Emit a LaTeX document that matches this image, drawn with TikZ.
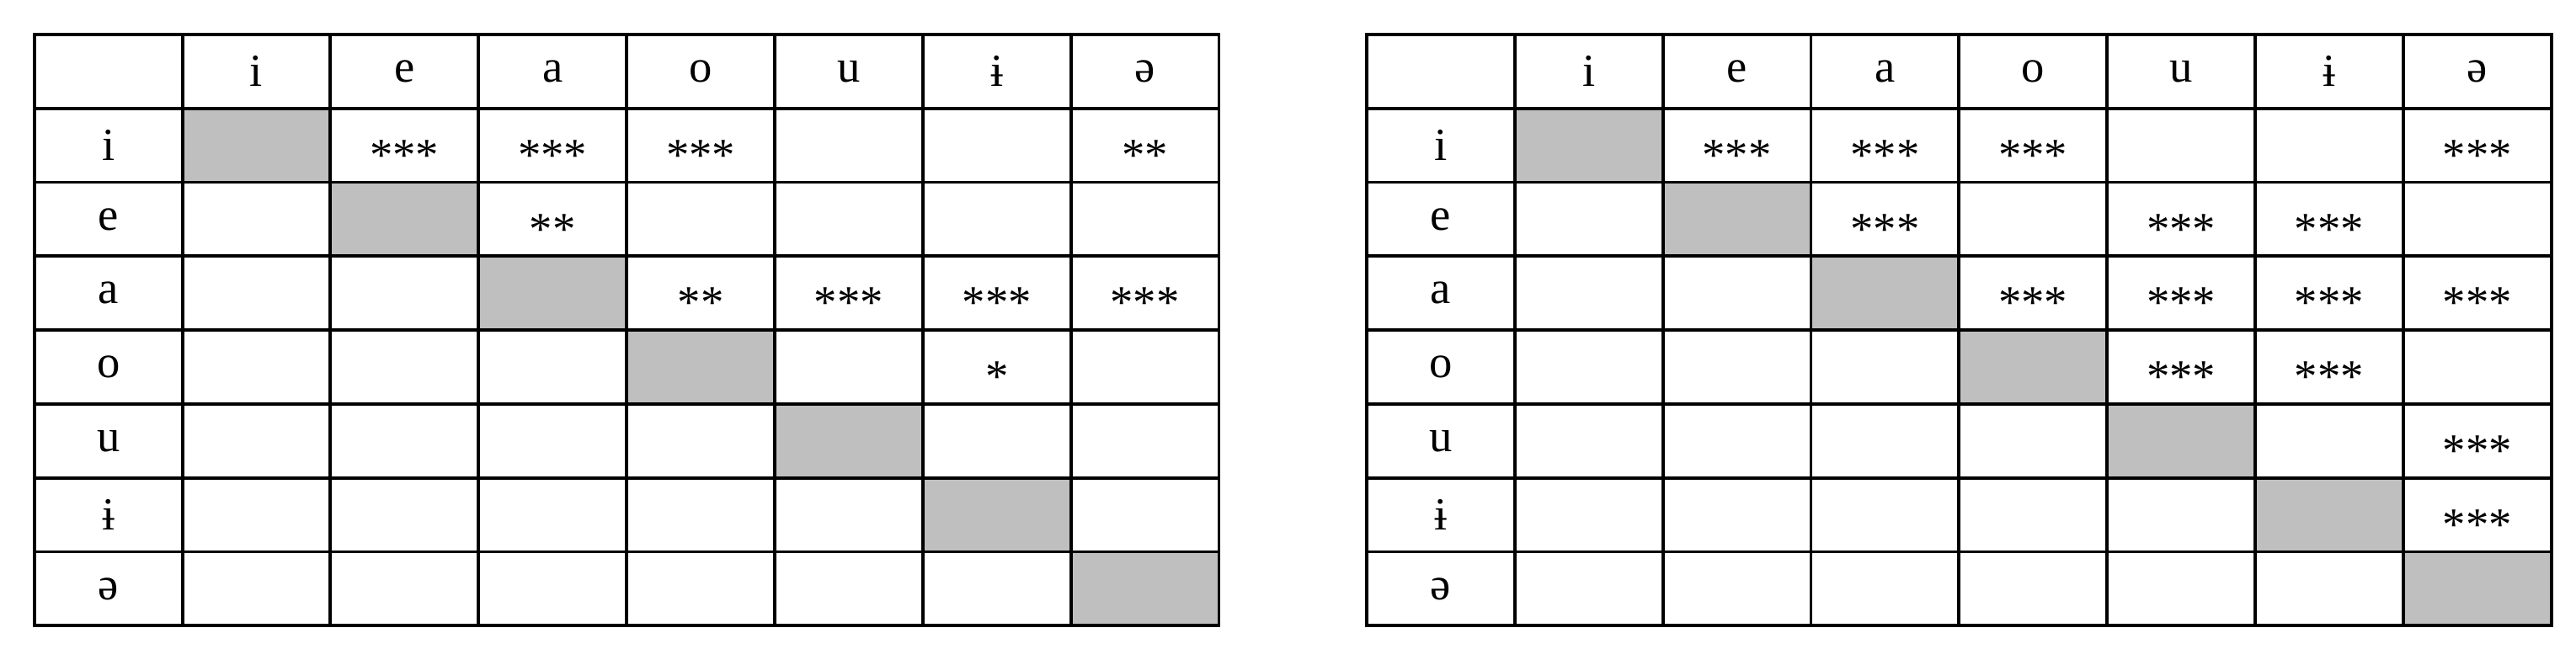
\documentclass[tikz,border=0pt]{standalone}
\usepackage{fontspec}
\setmainfont{Liberation Serif}
\begin{document}
\begin{tikzpicture}[x=0.5pt,y=-0.5pt,
  cell/.style={draw=black,line width=1pt,minimum width=45pt,minimum height=22.5pt,inner sep=0pt,anchor=north west,font=\fontsize{14}{14}\selectfont},
  graycell/.style={cell,fill=gray!50}]
\useasboundingbox (0,0) rectangle (1568,395);
\def\lab{{"","i","e","a","o","u","ɨ","ə"}}
\foreach \T/\ox in {L/20,R/831}{
  \foreach \r in {0,...,7}{
    \foreach \c in {0,...,7}{
      \pgfmathsetmacro\xx{\ox+(\c==0?0:90+(\c-1)*90.14)}
      \pgfmathsetmacro\w{\c==0?45:45.07}
      \ifnum\r=\c \ifnum\r>0
        \node[graycell,minimum width=\w pt] (\T-\r-\c) at (\xx,20+\r*45) {};
      \else
        \node[cell,minimum width=\w pt] (\T-\r-\c) at (\xx,20+\r*45) {};
      \fi\else
        \ifnum\r=0
          \pgfmathsetmacro\s{\lab[\c]}
          \node[cell,minimum width=\w pt] (\T-\r-\c) at (\xx,20+\r*45) {\s};
        \else\ifnum\c=0
          \pgfmathsetmacro\s{\lab[\r]}
          \node[cell,minimum width=\w pt] (\T-\r-\c) at (\xx,20+\r*45) {\s};
        \else
          \node[cell,minimum width=\w pt] (\T-\r-\c) at (\xx,20+\r*45) {};
        \fi\fi
      \fi
    }
  }
}
\tikzset{st/.style={font=\fontsize{14}{14}\selectfont,yshift=-3pt}}
\foreach \r/\c/\s in {1/2/***,1/3/***,1/4/***,1/7/**,2/3/**,3/4/**,3/5/***,3/6/***,3/7/***,4/6/*}
  \node[st] (Ls-\r-\c) at (L-\r-\c.center) {\s};
\foreach \r/\c in {1/2,1/3,1/4,1/7,2/3,2/5,2/6,3/4,3/5,3/6,3/7,4/5,4/6,5/7,6/7}
  \node[st] (Rs-\r-\c) at (R-\r-\c.center) {***};
\end{tikzpicture}
\end{document}
